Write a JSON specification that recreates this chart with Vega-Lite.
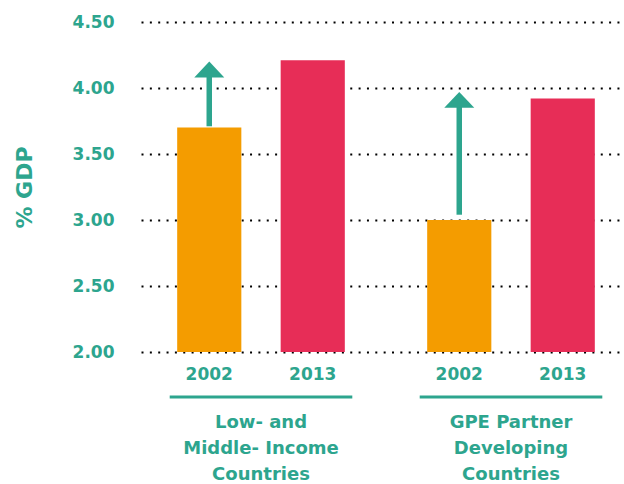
{
  "$schema": "https://vega.github.io/schema/vega-lite/v6.json",
  "width": 480,
  "height": 330,
  "autosize": "none",
  "padding": {"left": 141, "top": 22, "right": 3, "bottom": 132},
  "background": "white",
  "config": {"view": {"stroke": null}, "font": "DejaVu Sans"},
  "datasets": {
    "bars": [
      {"group": "Low", "year": "2002", "value": 3.70},
      {"group": "Low", "year": "2013", "value": 4.21},
      {"group": "GPE", "year": "2002", "value": 3.00},
      {"group": "GPE", "year": "2013", "value": 3.92}
    ],
    "arrows": [
      {"group": "Low", "year": "2002", "start": 3.71, "end": 4.14},
      {"group": "GPE", "year": "2002", "start": 3.04, "end": 3.91}
    ],
    "groups": [
      {"group": "Low", "label": "Low- and\nMiddle- Income\nCountries"},
      {"group": "GPE", "label": "GPE Partner\nDeveloping\nCountries"}
    ]
  },
  "encoding": {
    "x": {
      "field": "group", "type": "nominal", "sort": ["Low", "GPE"],
      "scale": {"domain": ["Low", "GPE"], "paddingInner": 0.12, "paddingOuter": 0.02, "align": 1},
      "axis": null
    }
  },
  "layer": [
    {
      "data": {"name": "bars"},
      "mark": {"type": "bar"},
      "encoding": {
        "xOffset": {"field": "year", "type": "nominal", "scale": {"domain": ["2002", "2013"], "paddingInner": 0.38, "paddingOuter": 0.253}},
        "y": {
          "field": "value", "type": "quantitative",
          "scale": {"domain": [2, 4.5], "zero": false, "nice": false},
          "axis": {
            "values": [2, 2.5, 3, 3.5, 4, 4.5],
            "format": ".2f",
            "title": "% GDP",
            "domain": false, "ticks": false,
            "labelFont": "DejaVu Sans", "labelFontWeight": "bold", "labelFontSize": 17, "labelColor": "#2DA58E",
            "labelPadding": 27,
            "titleFont": "DejaVu Sans", "titleFontWeight": "bold", "titleFontSize": 22, "titleColor": "#2DA58E",
            "titlePadding": 36,
            "grid": true, "gridColor": "#000000", "gridWidth": 2, "gridDash": [2, 6.35], "gridOpacity": 1
          }
        },
        "y2": {"datum": 2},
        "color": {"field": "year", "type": "nominal", "scale": {"domain": ["2002", "2013"], "range": ["#F49C00", "#E72D57"]}, "legend": null}
      }
    },
    {
      "data": {"name": "arrows"},
      "mark": {"type": "rule", "color": "#2DA58E", "strokeWidth": 5.5},
      "encoding": {
        "xOffset": {"field": "year", "type": "nominal"},
        "y": {"field": "start", "type": "quantitative"},
        "y2": {"field": "end"}
      }
    },
    {
      "data": {"name": "arrows"},
      "mark": {"type": "point", "shape": "M-1,0.53L0,-0.53L1,0.53Z", "filled": true, "size": 900, "color": "#2DA58E", "opacity": 1},
      "encoding": {
        "xOffset": {"field": "year", "type": "nominal"},
        "y": {"field": "end", "type": "quantitative"}
      }
    },
    {
      "data": {"name": "bars"},
      "mark": {"type": "text", "font": "DejaVu Sans", "fontWeight": "bold", "fontSize": 17, "color": "#2DA58E", "baseline": "middle", "dy": 23},
      "encoding": {
        "xOffset": {"field": "year", "type": "nominal"},
        "y": {"datum": 2},
        "text": {"field": "year"}
      }
    },
    {
      "data": {"name": "groups"},
      "mark": {"type": "rule", "color": "#2DA58E", "strokeWidth": 3, "yOffset": 45},
      "encoding": {
        "x": {"field": "group", "type": "nominal", "bandPosition": 0.085},
        "x2": {"field": "group", "bandPosition": 0.915},
        "y": {"datum": 2}
      }
    },
    {
      "data": {"name": "groups"},
      "mark": {"type": "text", "font": "DejaVu Sans", "fontWeight": "bold", "fontSize": 18, "color": "#2DA58E", "baseline": "top", "lineBreak": "\n", "lineHeight": 26, "dy": 62},
      "encoding": {
        "y": {"datum": 2},
        "text": {"field": "label"}
      }
    }
  ]
}
